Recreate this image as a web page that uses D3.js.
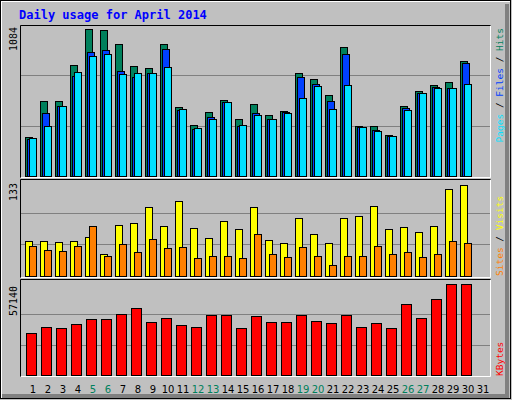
<!DOCTYPE html>
<html><head><meta charset="utf-8">
<script src="https://cdn.jsdelivr.net/npm/d3@7"></script>
<style>body{margin:0;background:#fff}</style>
</head><body><div id="chart"></div>
<script>
var days = d3.range(1, 32);
var weekend = [5, 6, 12, 13, 19, 20, 26, 27];
var hits  = [278,536,536,794,1053,1046,945,787,773,945,493,364,457,546,407,514,436,464,737,694,579,924,357,357,292,500,608,651,672,823,0];
var files = [263,450,500,718,888,902,751,708,737,909,474,337,421,529,361,450,407,457,708,658,536,873,349,328,285,486,593,637,629,809,0];
var pages = [270,357,500,744,859,873,730,737,737,780,479,342,407,529,364,436,407,450,558,644,479,651,349,321,285,471,593,629,629,658,0];
var visits = [49.6,49.6,48.2,49.6,55.1,31.5,71.8,74.6,96.9,70.4,105.2,67.6,53.7,77.4,66.3,96.9,51,46.8,81.6,59.3,46.8,81.6,84.3,98.2,66.3,69.1,62.1,70.4,121.9,127.4,0];
var sites  = [42.6,37.1,35.7,42.6,70.4,28.7,45.4,34.3,52.4,39.9,41.2,25.9,28.7,28.7,25.9,59.3,30.1,27.3,41.2,28.7,14.8,28.7,28.7,42.6,31.5,34.3,27.3,31.5,49.6,46.8,0];
var kbytes = [26276,30030,29404,31907,35035,35035,38163,41917,33158,35660,31281,30030,37537,37537,29404,36912,33158,33158,37537,33784,32533,37537,30030,32533,29404,44419,35660,47548,57140,57140,0];
var maxHits = 1084, maxVisits = 133, maxKbytes = 57140;

var W = 512, H = 400, mono = "'DejaVu Sans Mono', monospace";
var svg = d3.select("#chart").append("svg").attr("width", W).attr("height", H);

// frame
svg.append("rect").attr("width", W).attr("height", H).attr("fill", "#c0c0c0");
svg.append("path").attr("d", "M1,399V1H511").attr("stroke", "#fff").attr("stroke-width", 2).attr("fill", "none");
svg.append("path").attr("d", "M2,396H507V4").attr("stroke", "#808080").attr("stroke-width", 4).attr("fill", "none");
svg.append("rect").attr("x", 0.5).attr("y", 0.5).attr("width", 510).attr("height", 398).attr("fill", "none").attr("stroke", "#000");

svg.append("text").attr("x", 19).attr("y", 19).text("Daily usage for April 2014")
  .attr("font-family", mono).attr("font-weight", "bold").attr("font-size", 12).attr("fill", "#0000ff");

var x = d3.scaleBand().domain(days).range([25, 490]).padding(0);

var panels = [
  {top: 25, base: 176, max: maxHits, label: "1084"},
  {top: 181, base: 276, max: maxVisits, label: "133"},
  {top: 284, base: 375, max: maxKbytes, label: "57140"}
];
var boxes = [[20, 25, 490, 177], [20, 179, 490, 277], [20, 279, 490, 376]];
boxes.forEach(function(b) {
  svg.append("path").attr("d", "M" + (b[0] + .5) + "," + (b[3] + .5) + "V" + (b[1] + .5) + "H" + (b[2] + .5)).attr("stroke", "#000").attr("fill", "none");
  svg.append("path").attr("d", "M" + (b[0] + 1) + "," + (b[3] + .5) + "H" + (b[2] + .5) + "V" + (b[1] + 1)).attr("stroke", "#fff").attr("fill", "none");
});

panels.forEach(function(p) {
  p.y = d3.scaleLinear().domain([0, p.max]).range([p.base, p.top]);
  [1 / 3, 2 / 3].forEach(function(f) {
    var gy = Math.round(p.y(p.max * f)) + .5;
    svg.append("line").attr("x1", 21).attr("x2", 490).attr("y1", gy).attr("y2", gy).attr("stroke", "#808080");
  });
  svg.append("text").attr("transform", "translate(17," + (p.top + 2) + ") rotate(-90)")
    .attr("text-anchor", "end").attr("font-family", mono).attr("font-size", 10).text(p.label);
});

function bars(data, p, off, w, color) {
  svg.append("g").selectAll("rect").data(data).enter().append("rect")
    .filter(function(d) { return d > 0; })
    .attr("x", function(d, i) { return x(days[i]) + off + .5; })
    .attr("y", function(d) { return Math.round(p.y(d)) + .5; })
    .attr("width", w)
    .attr("height", function(d) { return p.base - Math.round(p.y(d)); })
    .attr("fill", color).attr("stroke", "#000");
}
bars(hits, panels[0], 0, 7, "#00805c");
bars(files, panels[0], 2, 7, "#0040ff");
bars(pages, panels[0], 4, 7, "#00e0ff");
bars(visits, panels[1], 0, 7, "#ffff00");
bars(sites, panels[1], 4, 7, "#ff8000");
bars(kbytes, panels[2], 1, 10, "#ff0000");

svg.append("g").selectAll("text").data(days).enter().append("text")
  .attr("x", function(d) { return x(d) + 8; }).attr("y", 393)
  .attr("text-anchor", "middle").attr("font-family", "'DejaVu Sans', sans-serif").attr("font-size", 10)
  .attr("fill", function(d) { return weekend.indexOf(d) >= 0 ? "#00805c" : "#000"; })
  .text(function(d) { return d; });

function sideLabel(parts, y, anchor) {
  var t = svg.append("text").attr("transform", "translate(503," + y + ") rotate(-90)")
    .attr("text-anchor", anchor).attr("font-family", mono).attr("font-size", 9.5);
  parts.forEach(function(s) { t.append("tspan").attr("fill", s[1]).text(s[0]); });
}
sideLabel([["Pages", "#00e0ff"], [" / ", "#000"], ["Files", "#0040ff"], [" / ", "#000"], ["Hits", "#00805c"]], 28, "end");
sideLabel([["Sites", "#ff8000"], [" / ", "#000"], ["Visits", "#ffff00"]], 276, "start");
sideLabel([["KBytes", "#ff0000"]], 376, "start");
</script></body></html>
